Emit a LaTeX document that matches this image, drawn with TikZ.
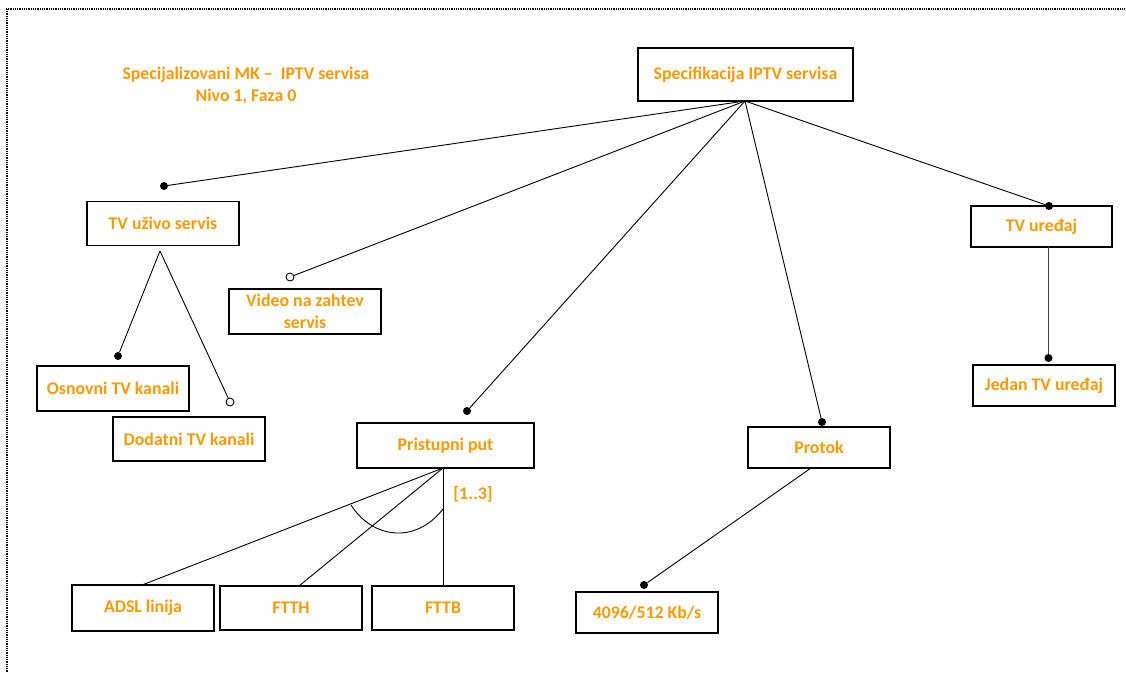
\documentclass[tikz,border=0pt]{standalone}
\usepackage{fontspec}
\setmainfont{Carlito}
\definecolor{org}{RGB}{255,153,0}
\begin{document}
\begin{tikzpicture}[x=1pt,y=-1pt,
  txt/.style={font=\bfseries\fontsize{17.8}{22}\selectfont, text=org, align=center},
  box/.style={txt, draw=black, line width=1.1pt, inner sep=0pt},
  ln/.style={line width=0.9pt},
  fdot/.style={circle, fill=black, inner sep=0pt, minimum size=8pt},
  odot/.style={circle, draw=black, fill=white, line width=0.9pt, inner sep=0pt, minimum size=8pt},
  frame/.style={line width=1.6pt, dash pattern=on 1pt off 0.8pt}]
\useasboundingbox (0,0) rectangle (1126,673);
\draw[frame] (6,9) -- (1126,9);
\draw[frame] (7,9) -- (7,673);

% title
\node[txt] (title) at (246,85) {Specijalizovani MK --\ \ IPTV servisa\\Nivo 1, Faza 0};

% boxes
\node[box, minimum width=215pt, minimum height=53pt] (spec) at (745.5,74.5) {Specifikacija IPTV servisa};
\node[box, minimum width=152pt, minimum height=44pt] (tvu) at (163,223.5) {TV uživo servis};
\node[box, minimum width=152pt, minimum height=45pt] (vod) at (305,311.5) {Video na zahtev\\servis};
\node[box, minimum width=152pt, minimum height=45pt] (osn) at (113,388.5) {Osnovni TV kanali};
\node[box, minimum width=152pt, minimum height=44pt] (dod) at (189,439) {Dodatni TV kanali};
\node[box, minimum width=177pt, minimum height=45pt] (pp) at (445.5,445.5) {Pristupni put};
\node[box, minimum width=142pt, minimum height=41pt] (prot) at (819,447.5) {Protok};
\node[box, minimum width=142pt, minimum height=41pt] (rate) at (647,612.5) {4096/512 Kb/s};
\node[box, minimum width=142pt, minimum height=46pt] (adsl) at (143,608) {ADSL linija};
\node[box, minimum width=142pt, minimum height=44pt] (ftth) at (291,608) {FTTH};
\node[box, minimum width=142pt, minimum height=44pt] (fttb) at (443,608) {FTTB};
\node[box, minimum width=141pt, minimum height=41pt] (tvd) at (1041.5,226.5) {TV uređaj};
\node[box, minimum width=142pt, minimum height=41pt] (jtv) at (1044,385.5) {Jedan TV uređaj};

% anchor points
\coordinate (specA) at (745,101);
\coordinate (tvuA) at (160,251);
\coordinate (ppA) at (443,468);
\coordinate (protA) at (811,468);
\coordinate (tvdA) at (1048.5,247);
\coordinate (adslT) at (142,585);
\coordinate (ftthT) at (299,586);
\coordinate (fttbT) at (443,586);

% dots
\node[fdot] (d1) at (164,186) {};
\node[odot] (d2) at (290,277) {};
\node[fdot] (d3) at (467,411) {};
\node[fdot] (d4) at (822,422) {};
\node[fdot] (d5) at (1049,206) {};
\node[fdot] (d6) at (118,356) {};
\node[odot] (d7) at (230,402) {};
\node[fdot] (d8) at (644,585) {};
\node[fdot] (d9) at (1048.5,358) {};

% connectors
\draw[ln] (specA) -- (d1);
\draw[ln] (specA) -- (d2);
\draw[ln] (specA) -- (d3);
\draw[ln] (specA) -- (d4);
\draw[ln] (specA) -- (d5.center);
\draw[ln] (tvuA) -- (d6);
\draw[ln] (tvuA) -- (d7);
\draw[ln] (protA) -- (d8);
\draw[line width=1.5pt, black!75] (tvdA) -- (d9);
\draw[ln] (ppA) -- (adslT);
\draw[ln] (ppA) -- (ftthT);
\draw[ln] (ppA) -- (fttbT);
\draw[ln] (351,505) .. controls (372,538) and (415,545) .. (443,509);
\node[txt] (card) at (473,494) {[1..3]};
\end{tikzpicture}
\end{document}
